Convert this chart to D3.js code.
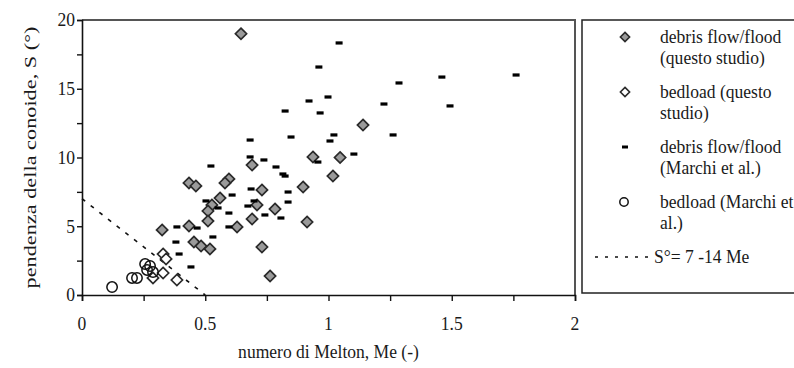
<!DOCTYPE html>
<html>
<head>
<meta charset="utf-8">
<script src="https://cdn.jsdelivr.net/npm/d3@7"></script>
<style>
  html, body { margin: 0; padding: 0; background: #fff; }
</style>
</head>
<body>
<svg id="chart" width="794" height="368"></svg>
<script>
// Melton number (Me) vs fan slope S (°)
const debrisQuesto = [
  [0.645, 19.0], [1.140, 12.36], [0.937, 10.04], [1.047, 10.0], [0.690, 9.45],
  [1.018, 8.65], [0.596, 8.44], [0.580, 8.15], [0.434, 8.15], [0.462, 7.93],
  [0.897, 7.85], [0.730, 7.64], [0.560, 7.05], [0.527, 6.55], [0.710, 6.55],
  [0.511, 6.11], [0.783, 6.25], [0.690, 5.53], [0.511, 5.38], [0.913, 5.31],
  [0.434, 5.02], [0.629, 4.95], [0.325, 4.73], [0.454, 3.85], [0.483, 3.56],
  [0.519, 3.35], [0.730, 3.49], [0.763, 1.38]
];
const bedloadQuesto = [
  [0.329, 2.98], [0.341, 2.62], [0.329, 1.60], [0.288, 1.24], [0.385, 1.09]
];
const debrisMarchi = [
  [1.043, 18.33], [0.961, 16.58], [1.460, 15.85], [1.761, 16.0], [1.286, 15.42],
  [0.998, 14.4], [0.921, 14.11], [1.225, 13.89], [1.493, 13.75], [0.824, 13.38],
  [0.966, 13.24], [1.262, 11.64], [1.022, 11.64], [0.848, 11.49], [1.006, 11.2],
  [0.682, 11.27], [1.103, 10.25], [0.682, 10.04], [0.738, 9.82], [0.957, 9.67],
  [0.523, 9.38], [0.787, 9.31], [0.815, 8.8], [0.824, 8.65], [0.686, 7.71],
  [0.836, 7.49], [0.609, 7.27], [0.503, 6.84], [0.698, 6.84], [0.836, 6.76],
  [0.673, 6.47], [0.552, 6.33], [0.596, 5.96], [0.742, 5.82], [0.807, 5.6],
  [0.596, 4.95], [0.385, 4.95], [0.467, 4.87], [0.531, 4.22], [0.381, 3.85],
  [0.394, 2.98], [0.442, 2.04]
];
const bedloadMarchi = [
  [0.122, 0.58], [0.203, 1.24], [0.223, 1.24], [0.256, 2.25], [0.276, 2.11],
  [0.264, 1.82], [0.288, 1.67]
];
// threshold line S = 7 - 14 Me
const thresholdLine = [[0, 7], [0.5, 0]];

const xTicks = [0, 0.5, 1, 1.5, 2];
const xMinorTicks = [0, 0.25, 0.5, 0.75, 1, 1.25, 1.5, 1.75, 2];
const yTicks = [0, 5, 10, 15, 20];
const yMinorTicks = [0, 2.5, 5, 7.5, 10, 12.5, 15, 17.5, 20];

const legendItems = [
  { type: "diamondGray", lines: ["debris flow/flood", "(questo studio)"] },
  { type: "diamondWhite", lines: ["bedload (questo", "studio)"] },
  { type: "dash", lines: ["debris flow/flood", "(Marchi et al.)"] },
  { type: "circle", lines: ["bedload (Marchi et", "al.)"] },
  { type: "line", lines: ["S°= 7 -14 Me"] }
];

const svg = d3.select("#chart");
const FONT = "Liberation Serif";
const FS = 19.5;       // glyph height
const SX = 0.9;        // horizontal narrowing of the typeface
const TXT = "#1a1a1a";

const x = d3.scaleLinear().domain([0, 2]).range([82, 575]);
const y = d3.scaleLinear().domain([0, 20]).range([295, 20]);

// horizontal label drawn at (px, py) with narrowed glyphs
function hText(parent, px, py, str, anchor) {
  parent.append("g")
    .attr("transform", `translate(${px},${py}) scale(${SX},1)`)
    .append("text")
    .attr("text-anchor", anchor || "start")
    .attr("dy", "0.33em")
    .attr("font-family", FONT).attr("font-size", FS).attr("fill", TXT)
    .text(str);
}

// frame (top and right edges)
svg.append("path")
  .attr("d", `M${x(0)},${y(20)}H${x(2)}V${y(0)}`)
  .attr("fill", "none").attr("stroke", "#555").attr("stroke-width", 2);

// axes
const xAxis = svg.append("g").attr("transform", `translate(0,${y(0)})`)
  .call(d3.axisBottom(x).tickValues(xMinorTicks).tickSize(6).tickFormat(""));
const yAxis = svg.append("g").attr("transform", `translate(${x(0)},0)`)
  .call(d3.axisLeft(y).tickValues(yMinorTicks).tickSize(5).tickFormat(""));
[xAxis, yAxis].forEach(g => {
  g.select(".domain").attr("stroke", "#111").attr("stroke-width", 1.6);
  g.selectAll(".tick line").attr("stroke", "#111").attr("stroke-width", 1.4);
});

const xLab = svg.append("g");
xTicks.forEach(t => hText(xLab, x(t), 324, d3.format("")(t), "middle"));
const yLab = svg.append("g");
yTicks.forEach(t => hText(yLab, 75, y(t), String(t), "end"));

hText(svg, (x(0) + x(2)) / 2, 352, "numero di Melton, Me (-)", "middle");

svg.append("g")
  .attr("transform", `translate(30,${(y(0) + y(20)) / 2}) scale(${SX},1) rotate(-90)`)
  .append("text")
  .attr("dy", "0.33em")
  .attr("text-anchor", "middle")
  .attr("font-family", FONT).attr("font-size", FS).attr("fill", TXT)
  .attr("textLength", 262).attr("lengthAdjust", "spacingAndGlyphs")
  .text("pendenza della conoide, S (°)");

// threshold line
svg.append("path")
  .datum(thresholdLine)
  .attr("d", d3.line().x(d => x(d[0])).y(d => y(d[1])))
  .attr("fill", "none").attr("stroke", "#111").attr("stroke-width", 1.6)
  .attr("stroke-dasharray", "4,7");

const diamond = r => `M0,${-r}L${r},0L0,${r}L${-r},0Z`;

// debris flow / flood (this study)
svg.append("g").selectAll("path").data(debrisQuesto).join("path")
  .attr("transform", d => `translate(${x(d[0])},${y(d[1])})`)
  .attr("d", diamond(5.6))
  .attr("fill", "#9a9a9a").attr("stroke", "#2a2a2a").attr("stroke-width", 1.7);

// bedload (this study)
svg.append("g").selectAll("path").data(bedloadQuesto).join("path")
  .attr("transform", d => `translate(${x(d[0])},${y(d[1])})`)
  .attr("d", diamond(5.6))
  .attr("fill", "#fff").attr("stroke", "#2a2a2a").attr("stroke-width", 1.7);

// debris flow / flood (Marchi et al.)
svg.append("g").selectAll("rect").data(debrisMarchi).join("rect")
  .attr("x", d => x(d[0]) - 3.5).attr("y", d => y(d[1]) - 1.6)
  .attr("width", 7).attr("height", 3.2)
  .attr("fill", "#000");

// bedload (Marchi et al.)
svg.append("g").selectAll("circle").data(bedloadMarchi).join("circle")
  .attr("cx", d => x(d[0])).attr("cy", d => y(d[1])).attr("r", 5.2)
  .attr("fill", "none").attr("stroke", "#111").attr("stroke-width", 1.5);

// legend
const lg = svg.append("g");
lg.append("rect").attr("x", 582).attr("y", 20).attr("width", 260).attr("height", 273)
  .attr("fill", "#fff").attr("stroke", "#222").attr("stroke-width", 1.5);

const itemTop = [37, 92, 147, 202, 257];
const lineGap = 20.5;
legendItems.forEach((it, i) => {
  const cy = itemTop[i];
  const g = lg.append("g");
  if (it.type === "diamondGray" || it.type === "diamondWhite") {
    g.append("path").attr("transform", `translate(625,${cy})`).attr("d", diamond(4.6))
      .attr("fill", it.type === "diamondGray" ? "#9a9a9a" : "#fff")
      .attr("stroke", "#2a2a2a").attr("stroke-width", 1.6);
  } else if (it.type === "dash") {
    g.append("rect").attr("x", 622).attr("y", cy - 1.5).attr("width", 6).attr("height", 3).attr("fill", "#000");
  } else if (it.type === "circle") {
    g.append("circle").attr("cx", 624).attr("cy", cy).attr("r", 4.2)
      .attr("fill", "none").attr("stroke", "#111").attr("stroke-width", 1.5);
  } else if (it.type === "line") {
    g.append("line").attr("x1", 595).attr("x2", 653).attr("y1", cy).attr("y2", cy)
      .attr("stroke", "#111").attr("stroke-width", 1.4).attr("stroke-dasharray", "3,7");
  }
  it.lines.forEach((t, j) => {
    hText(g, it.type === "line" ? 654 : 660, cy + j * lineGap, t, "start");
  });
});
</script>
</body>
</html>
